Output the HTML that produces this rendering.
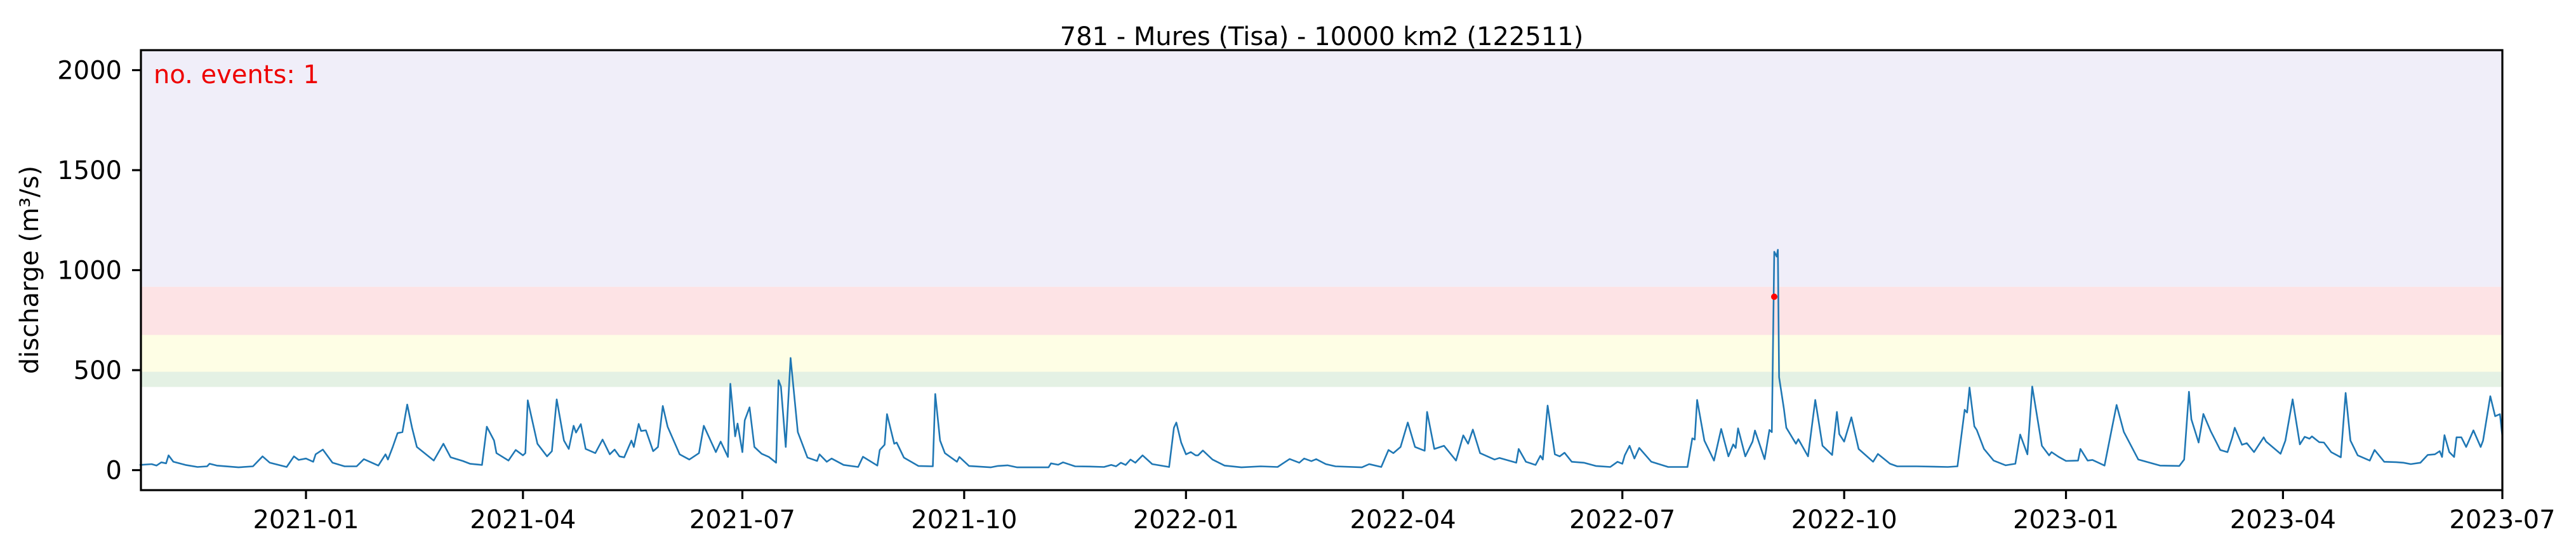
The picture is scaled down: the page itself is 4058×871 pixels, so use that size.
<!DOCTYPE html>
<html><head><meta charset="utf-8"><style>
html,body{margin:0;padding:0;background:#fff;}
svg{display:block;font-family:"DejaVu Sans","Liberation Sans",sans-serif;}
</style></head><body>
<svg id="chart" width="4058" height="871" xmlns="http://www.w3.org/2000/svg"></svg>
<script>
// ---- data ----
const seriesDays = [0,5,7,9,11,12,14,19,24,28,29,32,41,47,51,54,61,64,66,69,72,73,76,80,85,90,93,99,102,103,105,107,109,111,113,115,122,126,129,134,137,142,144,147,148,153,156,159,160,161,165,169,171,173,176,178,180,181,183,185,189,192,195,197,199,201,204,205,207,208,210,213,215,217,219,224,228,232,234,237,239,241,244,245,247,
248,250,251,253,255,258,261,264,265,266,268,270,273,277,281,282,285,287,292,298,300,306,307,309,310,313,314,317,323,329,330,332,334,339,340,344,353,356,360,364,377,378,381,383,388,394,400,403,405,407,409,411,413,416,420,427,429,430,432,434,436,438,439,441,445,450,457,465,472,474,477,481,483,486,488,
492,496,507,510,515,518,520,523,526,529,533,534,537,541,546,549,551,553,556,562,564,571,572,575,579,581,582,584,587,589,591,594,599,604,610,613,615,616,618,620,622,627,634,642,644,645,646,649,653,656,659,661,662,663,666,669,670,674,676,677,678,679,679.5,680,682,683,687,688,692,695,698,702,704,705,707,710,713,719,721,726,729,
737,750,754,757,758,759,761,762,765,769,774,778,780,783,785,789,792,793,796,799,804,805,808,810,815,818,820,823,829,838,846,848,850,851,854,856,859,863,866,868,869,872,874,877,881,882,888,890,893,896,898,900,901,904,906,909,913,915,917,920,925,927,931,936,939,942,946,949,952,954,955,956,958,960,961,963,965,968,971,972,975,977,979,980];
const seriesValues = [26,30,23,39,34,74,42,26,16,19,32,23,14,19,69,37,16,69,51,58,42,79,103,37,19,19,55,23,79,53,116,185,190,328,212,116,48,132,64,46,32,26,217,148,85,48,101,74,85,349,132,69,95,354,148,106,222,188,230,106,85,153,79,103,69,64,148,116,231,196,199,95,116,321,217,79,53,85,222,143,90,143,66,432,169,
233,90,249,314,116,82,66,37,450,418,116,561,190,63,46,79,42,58,26,16,67,23,101,127,280,132,138,63,21,19,381,148,85,42,66,21,14,21,24,14,14,34,27,39,19,18,16,26,19,37,26,53,37,74,30,16,212,238,138,79,90,74,74,98,53,23,14,19,16,32,56,37,58,45,55,
30,19,14,30,16,101,85,116,238,116,97,291,106,122,48,174,132,203,85,53,61,37,106,42,26,72,53,323,79,69,87,42,37,21,16,42,32,74,122,58,111,42,16,16,159,153,351,148,48,206,69,129,111,209,69,143,198,55,201,190,1092,1068,1102,465,307,212,132,155,69,351,122,76,291,180,143,264,106,42,81,32,19,
19,16,19,302,288,413,219,201,106,48,24,32,178,79,418,122,74,90,66,46,48,106,48,51,23,206,326,191,53,23,21,53,392,254,138,281,196,101,90,164,212,127,135,90,164,143,82,148,354,129,167,157,169,140,138,90,64,386,148,74,48,101,42,40,37,30,37,76,79,95,66,175,90,66,164,164,116,199,116,148,370,270,280,169];
const eventDays = [678];
const eventValues = [867];
const bandLows = [416,492,676,917];
const bandHighs = [492,676,917,2100];
const bandColors = ['#e4f1e4','#fefee5','#fde3e5','#f0eef9'];
const yTicks = [0,500,1000,1500,2000];
const xTickLabels = ['2021-01','2021-04','2021-07','2021-10','2022-01','2022-04','2022-07','2022-10','2023-01','2023-04','2023-07'];

// ---- axes ----
const L=222,R=3942,T=79,B=772;
const day0=Date.UTC(2020,9,24);
const xmin=0.54,xmax=980,ymin=-100,ymax=2100;
const X=d=>L+(d-xmin)/(xmax-xmin)*(R-L);
const Y=v=>B-(v-ymin)/(ymax-ymin)*(B-T);
const NS='http://www.w3.org/2000/svg';
const svg=document.getElementById('chart');
function mk(tag,attrs,parent){const e=document.createElementNS(NS,tag);for(const k in attrs)e.setAttribute(k,attrs[k]);(parent||svg).appendChild(e);return e;}

for(let i=0;i<bandLows.length;i++){
  const r=mk('rect',{x:L,y:Y(bandHighs[i]),width:R-L,height:Y(bandLows[i])-Y(bandHighs[i]),fill:bandColors[i]});
  
  
}
let d='';
for(let i=0;i<seriesDays.length;i++){d+=(i?'L':'M')+X(seriesDays[i]).toFixed(1)+','+Y(seriesValues[i]).toFixed(1);}
const line=mk('path',{d:d,fill:'none',stroke:'#1f77b4','stroke-width':2.6,'stroke-linejoin':'round'});


for(let i=0;i<eventDays.length;i++){
  const c=mk('circle',{cx:X(eventDays[i]),cy:Y(eventValues[i]),r:5,fill:'#ff0000'});
  
  
}
const frame=mk('rect',{x:L,y:T,width:R-L,height:B-T,fill:'none',stroke:'#000','stroke-width':3.2});



for(const v of yTicks){
  const t=mk('line',{x1:L-14,x2:L,y1:Y(v),y2:Y(v),stroke:'#000','stroke-width':3.2});
  
  
  const tx=mk('text',{x:192,y:Y(v)+14,'text-anchor':'end','font-size':40,fill:'#000'});
  tx.textContent=v;
  
  
}
for(const lab of xTickLabels){
  const [yy,mm]=lab.split('-').map(Number);
  const dd=(Date.UTC(yy,mm-1,1)-day0)/86400000;
  const x=X(dd);
  const t=mk('line',{x1:x,x2:x,y1:B,y2:B+14,stroke:'#000','stroke-width':3.2});
  
  
  const tx=mk('text',{x:x,y:832,'text-anchor':'middle','font-size':40,fill:'#000'});
  tx.textContent=lab;
  
  
}
</script>
<svg style="position:absolute;left:0;top:0" width="4058" height="871" xmlns="http://www.w3.org/2000/svg" font-family="DejaVu Sans, Liberation Sans, sans-serif">
<text x="2082" y="71" text-anchor="middle" font-size="40" fill="#000">781 - Mures (Tisa) - 10000 km2 (122511)</text>
<text x="242" y="131" font-size="40" fill="#ee0000">no. events: 1</text>
<text transform="translate(60,425) rotate(-90)" text-anchor="middle" font-size="40" fill="#000">discharge (m³/s)</text>
</svg>
</body></html>
